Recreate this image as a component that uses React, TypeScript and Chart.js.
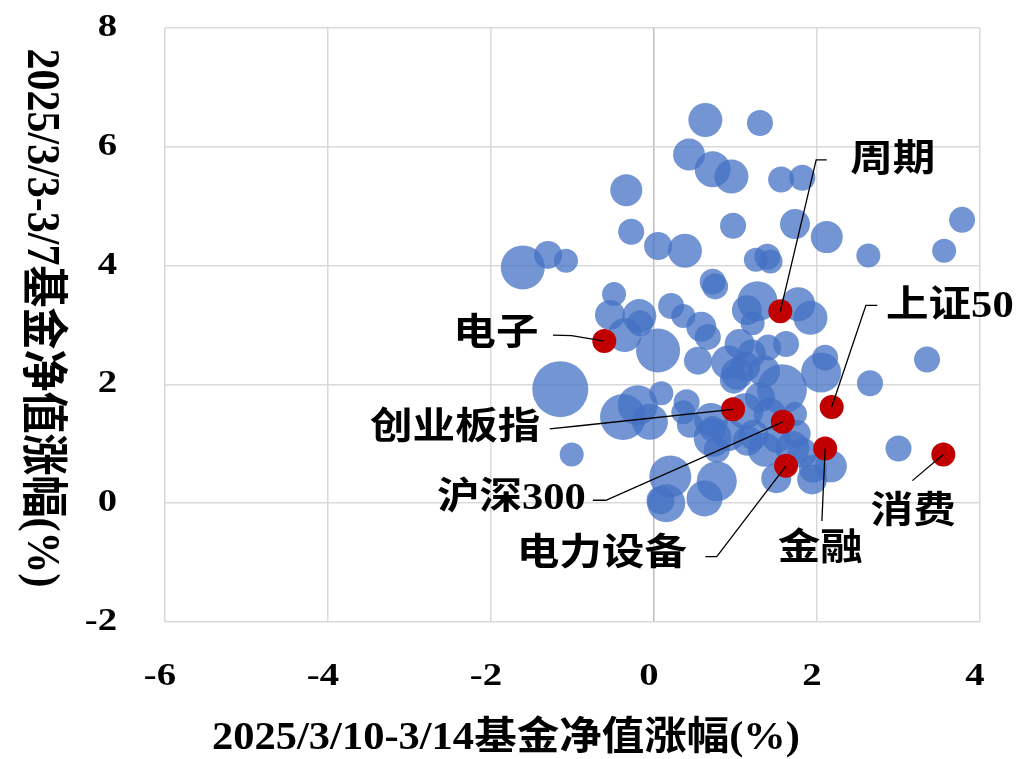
import React, { useEffect, useRef } from "react";
import { Chart, registerables } from "chart.js";

Chart.register(...registerables);

// Fund bubbles: x = 3/10-3/14 return, y = 3/3-3/7 return, size = fund scale
const fundX = [
  0.63, 1.3, 0.43, 0.72, 0.95, -0.34, 1.56, 1.82, 0.97, -0.28,
  1.73, 2.12, 3.78, 3.56, 2.63, 0.05, 0.38, -1.3, -1.08, -1.61,
  1.25, 1.39, 1.43, 0.72, 0.75, -0.49, -0.54, -0.18, -0.36, -0.17,
  0.21, 0.36, 0.58, 0.66, 0.05, 0.54, -1.15, -0.38, -0.2, -0.05,
  0.09, 0.4, 0.36, 0.44, 0.72, 0.77, -1.01, 0.2, 0.08, 0.15,
  0.77, 0.62, 1.27, 1.14, 1.77, 1.92, 1.21, 1.62, 2.1, 2.05,
  2.65, 3.35, 1.57, 1.05, 1.2, 1.4, 1.12, 1.35, 0.98, 1.3,
  1.12, 1.42, 1.73, 3.0, 2.17, 1.94, 1.5, 1.36, 1.7, 1.82,
  1.95, 0.92, 1.15, 0.91, 1.02, 0.7, 1.22, 1.51, 1.75, 0.72,
];
const fundY = [
  6.45, 6.4, 5.87, 5.62, 5.5, 5.27, 5.45, 5.48, 4.67, 4.57,
  4.7, 4.48, 4.77, 4.25, 4.17, 4.33, 4.25, 4.18, 4.08, 3.97,
  4.1, 4.15, 4.07, 3.73, 3.65, 3.52, 3.17, 3.15, 2.83, 3.03,
  3.32, 3.15, 2.97, 2.8, 2.57, 2.4, 1.92, 1.45, 1.65, 1.37,
  1.85, 1.7, 1.53, 1.32, 1.1, 0.9, 0.82, 0.45, 0.05, 0.0,
  0.37, 0.08, 3.4, 3.25, 3.35, 3.12, 3.03, 2.68, 2.45, 2.2,
  2.02, 2.42, 1.92, 2.68, 2.52, 2.62, 2.3, 2.22, 2.08, 1.78,
  1.55, 1.5, 1.5, 0.92, 0.62, 0.4, 0.42, 0.9, 0.93, 0.85,
  0.58, 1.15, 1.05, 2.37, 2.18, 1.4, 1.15, 1.08, 1.17, 1.25,
];
const fundSize = [
  17, 13, 16, 18, 17, 16, 13, 13, 13, 13,
  15, 16, 13, 12, 12, 14, 17, 14, 12, 22,
  12, 13, 12, 13, 13, 12, 15, 17, 17, 13,
  13, 12, 15, 13, 22, 14, 28, 23, 20, 18,
  12, 13, 12, 13, 19, 13, 12, 21, 14, 19,
  20, 18, 20, 15, 17, 17, 12, 13, 13, 20,
  13, 13, 25, 15, 14, 13, 15, 16, 14, 15,
  18, 16, 12, 13, 16, 15, 15, 17, 17, 15,
  14, 16, 15, 17, 16, 17, 15, 14, 14, 13,
];

// Highlighted indices
const indexNames = ["周期", "上证50", "电子", "创业板指", "沪深300", "电力设备", "金融", "消费"];
const indexX = [1.55, 2.18, -0.61, 0.97, 1.58, 1.62, 2.1, 3.55];
const indexY = [3.23, 1.62, 2.73, 1.58, 1.37, 0.63, 0.92, 0.82];

const xTicks = [-6, -4, -2, 0, 2, 4];
const yTicks = [-2, 0, 2, 4, 6, 8];
const xTitle = "2025/3/10-3/14基金净值涨幅(%)";
const yTitle = "2025/3/3-3/7基金净值涨幅(%)";

// Callout label anchors and leader bends (data coordinates), from the marker outward
const calloutText = [
  { tx: 2.93, ty: 5.75, bends: [[1.99, 5.78], [2.12, 5.78]] },
  { tx: 3.63, ty: 3.3, bends: [[2.6, 3.33], [2.74, 3.33]] },
  { tx: -1.94, ty: 2.83, bends: [[-1.01, 2.82], [-1.24, 2.83]] },
  { tx: -2.44, ty: 1.25, bends: [[-0.94, 1.3], [-1.28, 1.25]] },
  { tx: -1.75, ty: 0.06, bends: [[-0.59, 0.05], [-0.75, 0.05]] },
  { tx: -0.64, ty: -0.88, bends: [[0.77, -0.9], [0.63, -0.9]] },
  { tx: 2.04, ty: -0.8, bends: [[2.06, -0.3]] },
  { tx: 3.18, ty: -0.17, bends: [[3.17, 0.38]] },
];

const FAMILY = '"Liberation Serif", "Noto Sans CJK SC", serif';

function stretchedText(
  ctx: CanvasRenderingContext2D,
  text: string,
  x: number,
  y: number,
  size: number,
  sx: number,
  align: CanvasTextAlign
) {
  ctx.save();
  ctx.translate(x, y);
  ctx.scale(sx, 1);
  ctx.font = `bold ${size}px ${FAMILY}`;
  ctx.fillStyle = "#000";
  ctx.textAlign = align;
  ctx.textBaseline = "middle";
  ctx.fillText(text, 0, 0);
  ctx.restore();
}

const textPlugin = {
  id: "textPlugin",
  afterDatasetsDraw(chart: any) {
    const ctx: CanvasRenderingContext2D = chart.ctx;
    const xs = chart.scales.x;
    const ys = chart.scales.y;
    // leader lines
    ctx.save();
    ctx.strokeStyle = "#000";
    ctx.lineWidth = 1.3;
    calloutText.forEach((c, i) => {
      ctx.beginPath();
      ctx.moveTo(xs.getPixelForValue(indexX[i]), ys.getPixelForValue(indexY[i]));
      c.bends.forEach((b) => ctx.lineTo(xs.getPixelForValue(b[0]), ys.getPixelForValue(b[1])));
      ctx.stroke();
    });
    ctx.restore();
    // callout labels
    calloutText.forEach((c, i) => {
      stretchedText(ctx, indexNames[i], xs.getPixelForValue(c.tx), ys.getPixelForValue(c.ty), 37, 1.15, "center");
    });
    // tick labels
    xTicks.forEach((v) => {
      stretchedText(ctx, String(v), xs.getPixelForValue(v) - 5, 677, 31, 1.25, "center");
    });
    yTicks.forEach((v) => {
      stretchedText(ctx, String(v), 117, ys.getPixelForValue(v), 31, 1.25, "right");
    });
    // x title
    stretchedText(ctx, xTitle, 506, 739, 39, 1.09, "center");
    // y title (rotated clockwise, reading top to bottom)
    ctx.save();
    ctx.translate(40, 318);
    ctx.rotate(Math.PI / 2);
    ctx.scale(1, 1.1);
    ctx.font = `bold 42px ${FAMILY}`;
    ctx.fillStyle = "#000";
    ctx.textAlign = "center";
    ctx.textBaseline = "middle";
    ctx.fillText(yTitle, 0, 0);
    ctx.restore();
  },
};

export default function App() {
  const ref = useRef<HTMLCanvasElement | null>(null);
  useEffect(() => {
    if (!ref.current) return;
    const chart = new Chart(ref.current, {
      type: "bubble",
      data: {
        datasets: [
          {
            label: "指数",
            data: indexX.map((x, i) => ({ x, y: indexY[i], r: 12 })),
            backgroundColor: "#C00000",
            borderWidth: 0,
            order: 1,
          },
          {
            label: "基金",
            data: fundX.map((x, i) => ({ x, y: fundY[i], r: fundSize[i] })),
            backgroundColor: "rgba(68,114,196,0.75)",
            borderWidth: 0,
            order: 2,
          },
        ],
      },
      options: {
        animation: false,
        responsive: false,
        devicePixelRatio: 1,
        events: [],
        layout: { padding: { top: 22, right: 37, left: 0, bottom: 0 } },
        plugins: { legend: { display: false }, tooltip: { enabled: false } },
        scales: {
          x: {
            type: "linear",
            min: -6,
            max: 4,
            ticks: { stepSize: 2, display: false },
            grid: {
              drawTicks: false,
              lineWidth: 1.5,
              color: (c: any) => (c.tick && c.tick.value === 0 ? "#BFBFBF" : "#D9D9D9"),
            },
            border: { display: false },
            afterFit: (s: any) => {
              s.height = 137;
            },
          },
          y: {
            type: "linear",
            min: -2,
            max: 8,
            ticks: { stepSize: 2, display: false },
            grid: { drawTicks: false, lineWidth: 1.5, color: "#D9D9D9" },
            border: { display: false },
            afterFit: (s: any) => {
              s.width = 165;
            },
          },
        },
      },
      plugins: [textPlugin],
    });
    return () => chart.destroy();
  }, []);
  return (
    <div style={{ position: "absolute", left: 0, top: 0, width: 1017, height: 759, background: "#fff" }}>
      <canvas ref={ref} width={1017} height={759} />
    </div>
  );
}
